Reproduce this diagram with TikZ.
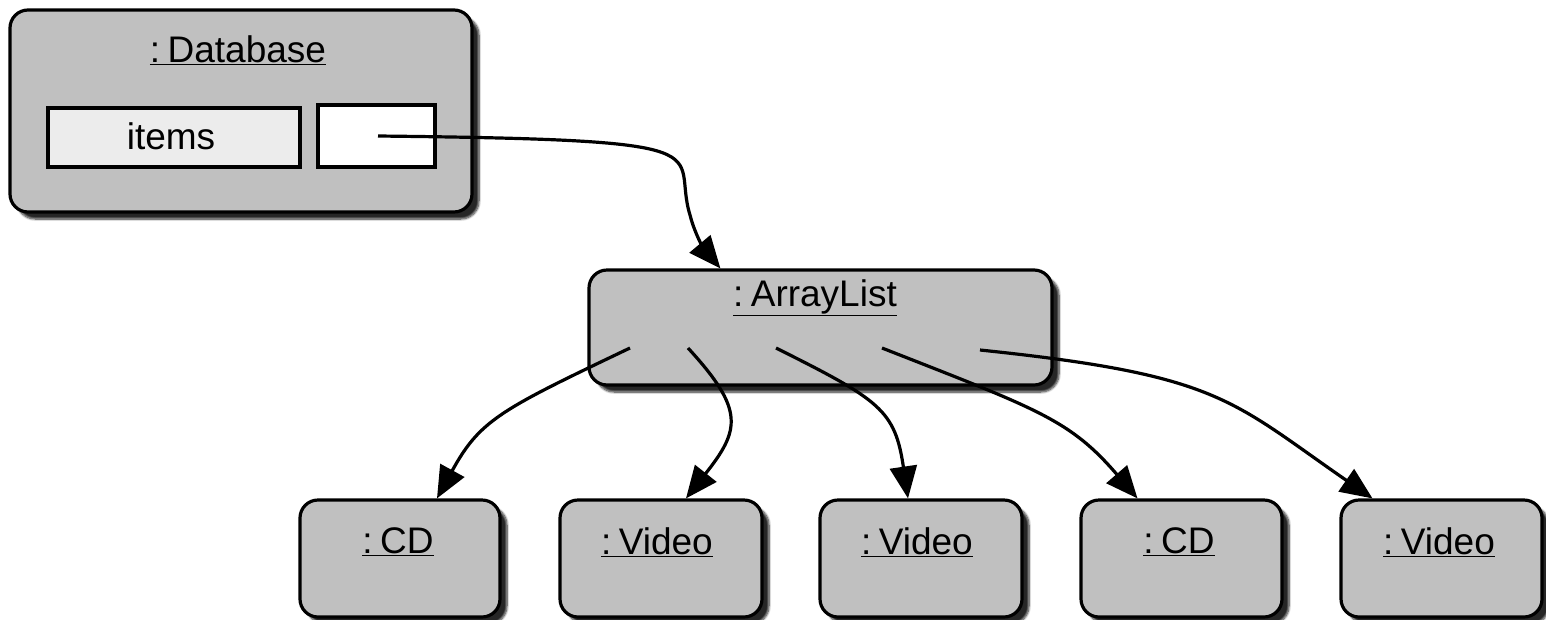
\documentclass[tikz,border=0pt]{standalone}
\usepackage{fontspec}
\setmainfont{Liberation Sans}
\usetikzlibrary{shadows.blur,arrows.meta,calc}
\definecolor{boxgray}{HTML}{C0C0C0}
\definecolor{itemgray}{HTML}{ECECEC}
\newcommand{\objname}[1]{\underline{:\hspace{0.2em}#1}}
\tikzset{
  objbox/.style={draw=black, line width=3.2pt, fill=boxgray, rounded corners=18pt,
    blur shadow={shadow xshift=7pt, shadow yshift=-7pt, shadow blur steps=8, shadow opacity=85}},
  fieldbox/.style={draw=black, line width=3.2pt, inner sep=0pt},
  lbl/.style={font=\fontsize{37}{42}\selectfont, inner sep=0pt},
  conn/.style={line width=3.2pt, -{Triangle[length=32pt,width=27pt]}},
}
\begin{document}
\begin{tikzpicture}[x=1pt,y=-1pt]
\useasboundingbox (0,0) rectangle (1546,619);
% boxes
\node[objbox, minimum width=462pt, minimum height=202pt] (db) at (241,111) {};
\node[lbl] (dbl) at (238,50) {\objname{Database}};
\node[fieldbox, fill=itemgray, minimum width=252pt, minimum height=59pt] (items) at (174,137.5) {};
\node[lbl] (itemsl) at (171,136) {items};
\node[fieldbox, fill=white, minimum width=117pt, minimum height=62pt] (ptr) at (376.5,136) {};

\node[objbox, minimum width=463pt, minimum height=115pt] (al) at (820.5,327.5) {};
\node[lbl] (all) at (815,298) {\objname{ArrayList}};

\node[objbox, minimum width=200pt, minimum height=117pt] (cd1) at (400,558.5) {};
\node[lbl] (cd1l) at (398,542) {\objname{CD}};
\node[objbox, minimum width=202pt, minimum height=117pt] (v1) at (661,558.5) {};
\node[lbl] (v1l) at (657,542) {\objname{Video}};
\node[objbox, minimum width=202pt, minimum height=117pt] (v2) at (921,558.5) {};
\node[lbl] (v2l) at (917,542) {\objname{Video}};
\node[objbox, minimum width=201pt, minimum height=117pt] (cd2) at (1181.5,558.5) {};
\node[lbl] (cd2l) at (1179,542) {\objname{CD}};
\node[objbox, minimum width=201pt, minimum height=117pt] (v3) at (1441.5,558.5) {};
\node[lbl] (v3l) at (1439,542) {\objname{Video}};

% connector start points
\coordinate (p0) at (378,136);
\coordinate (s1) at (630,348);
\coordinate (s2) at (688,348);
\coordinate (s3) at (776,348);
\coordinate (s4) at (882,348);
\coordinate (s5) at (980,350);

% connectors
\draw[conn] (p0) .. controls (740,140) and (670,150) .. (690,215)
  .. controls (695,235) and (705,250) .. ($(al.north west)+(133,0)$);
\draw[conn] (s1) .. controls (500,410) and (480,420) .. ($(cd1.north)+(37,0)$);
\draw[conn] (s2) .. controls (745,410) and (740,430) .. ($(v1.north)+(25,0)$);
\draw[conn] (s3) .. controls (880,400) and (895,410) .. ($(v2.north)+(-13,0)$);
\draw[conn] (s4) .. controls (1040,410) and (1070,420) .. ($(cd2.north)+(-44,0)$);
\draw[conn] (s5) .. controls (1220,375) and (1230,400) .. ($(v3.north)+(-69,0)$);
\end{tikzpicture}
\end{document}
